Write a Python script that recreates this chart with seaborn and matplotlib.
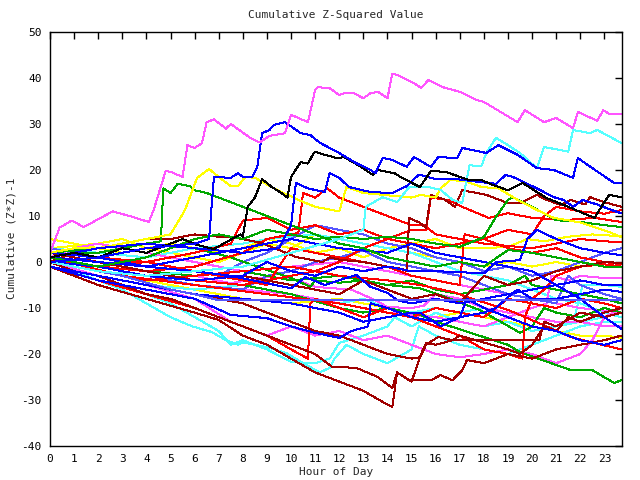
import matplotlib
matplotlib.use("Agg")
import matplotlib.pyplot as plt
import seaborn as sns
import pandas as pd

# ---------------- data ----------------
hour_ticks = list(range(24))
value_ticks = list(range(-40, 51, 10))

m1_x = [0,0.4,0.9,1.4,2.6,3.3,4.1,4.3,4.8,5.0,5.5,5.7,6.0,6.3,6.5,6.8,7.3,7.5,8.3,8.7,9.1,9.75,10.0,10.7,11.0,11.1,11.6,12.0,12.2,12.6,13.0,13.3,13.6,14.0,14.2,14.4,15.1,15.4,15.7,16.3,17.0,17.7,18.0,19.4,19.7,20.5,21.0,21.7,21.9,22.7,22.95,23.2,23.7]
m1_y = [2,7.5,9,7.6,11,10,8.7,11.3,19.8,19.6,18.5,25.4,24.8,25.8,30.4,31,29,30,27,26,27.4,28,32,30.4,37.4,38,37.8,36.3,36.7,36.7,35.6,36.7,37,35.6,40.9,40.7,38.9,37.8,39.6,38,37,35.2,34.8,30.4,33,30.4,31.3,29.1,32.6,30.7,33,32.2,32.2]

c1_x = [0,2,4,6,8,10,12,13,13.1,13.8,14.4,14.9,15.7,16.2,16.7,17.1,17.4,17.9,18.1,18.5,19.0,19.5,20.2,20.5,21.5,21.7,22.4,22.7,23.7]
c1_y = [0,-2,-3,-2,-1,2,5,7,12,14.1,13,16.3,16.3,15.7,13.5,12.8,21,20.9,23.7,27,25.4,23.7,20.4,25,24,28.7,28,28.7,25.9]

b1_x = [0,2,4,6,6.6,6.8,7.5,7.8,8.0,8.4,8.6,8.8,9.1,9.3,9.75,10.4,10.8,11.2,12.0,12.7,13.3,13.5,13.8,14.2,14.8,15.1,15.8,16.1,16.9,17.1,18.1,18.6,19.4,20.2,20.9,21.7,21.9,22.5,23.4,23.7]
b1_y = [0,1,3,4,5,18.5,18.3,19.3,18.5,18.5,20.7,28,28.7,29.8,30.4,28,27.6,25.9,23.7,21.5,20,19.3,22.6,22.2,20.7,22.8,20.7,22.8,22.6,24.8,23.7,25.4,23.3,20.4,20,18.3,22.6,20.4,17.2,17.2]

k1_x = [0,1,2,3,4,5,5.5,6.1,6.8,7.3,7.9,8.0,8.2,8.5,8.8,9.2,9.6,9.85,10.0,10.4,10.7,10.9,11.0,11.4,11.9,12.2,12.9,13.4,13.6,14.3,14.6,15.35,15.8,16.4,17.4,17.9,18.4,19.0,19.6,20.6,21.5,22.3,22.6,22.75,23.2,23.7]
k1_y = [1,2,1,3,2,4,5,3.7,2.8,4.3,6,5.4,12,14,18,16.3,15,14,18.5,21.7,21.4,23.3,24,23.3,22.6,22.8,20.7,18.9,20,19.3,18.3,16.3,19.8,19.6,17.8,17.8,16.7,15.6,17.2,13.9,12,10.2,9.6,11,14.6,14.1]

b2_x = [0,2,4,6,8,9.5,10.0,10.2,10.7,11.4,11.6,12.0,12.4,13.3,14.2,14.8,15.3,16.0,16.9,17.8,18.5,18.9,19.2,20.2,20.9,21.3,21.7,22.1,22.7,23.3,23.7]
b2_y = [1,3,4,3,2,3,8,17.2,16,15.2,19.3,18.3,16.3,15.2,15,16.5,19,18,18,17.4,17,18.9,18.5,16,14.1,13.5,12,13.5,12.5,11.3,10.6]

y1_x = [0,1,2,3,4,5,5.6,6.1,6.6,7.0,7.5,7.8,8.1,8.5,9.3,9.7,10.3,11.0,12.0,12.3,13.0,14.0,15.0,15.4,16.0,16.2,16.6,17.2,17.9,18.6,19.4,20.2,20.9,22.0,23.2,23.7]
y1_y = [2,3,3,4,5,6,11.3,18.3,20.2,18.5,16.5,16.5,18.5,18.3,16,15,13.5,12,11,16.3,15,14.5,14,14.6,14,16,17.8,17.6,16.3,16,13.5,11.3,9.6,8.6,6.5,5.4]

g2_x = [0,1,2,3,4,4.6,4.7,5.0,5.3,5.8,6.0,6.5,7.0,7.5,8.0,9,10,11,12,13,14,15,16,17,18,19,20,21,22,23,23.7]
g2_y = [1,2,2,3,4,4.5,16,15,17,16.5,15.6,15,14,13,12,10,8,6,4,3,1,0,-1,0,-1,2.6,2,1,0,-1,-1]

g1_x = [0,1,2,3,4,5,6,7,8,9,10,11,12,13,14,15,16,17,18,18.5,19.0,19.2,20.0,21.0,22.0,23.0,23.7]
g1_y = [1,0,-1,0,1,3,5,6,5,7,6,5,5.5,5,5.5,5,4,3.3,5.4,9.8,13.5,14.1,12,9.1,8.7,8,7.6]

dru_x = [0,1,2,3,4,5,6,7,7.6,8.8,10.2,11.3,11.6,12,13,14,14.6,14.8,14.9,15.35,15.6,15.8,16.4,16.8,17.1,18.1,19.0,19.5,20.2,20.6,21.2,21.6,22.2,22.4,23.0,23.7]
dru_y = [0,2,3,4,5,5,6,5.5,5.4,4.1,1.1,0,1,0.5,0,-1,-1.5,-2,9.6,8.5,7.4,14.6,13.5,12,15.6,14.6,12.8,12.8,14.6,13.5,12.4,13.5,12.5,14.1,13,12]

r1_x = [0,2,4,6,8,10,11,12,13,14,15,15.6,15.8,16.5,17.1,18.2,19.0,20.0,21.3,22.6,23.7]
r1_y = [0,-2,-3,-4,-5,-3,-2,0,3,5,7,7,14,13.5,12,9.6,10.6,9.6,9.1,9.6,8.7]

r2_x = [0,2,4,6,8,9,10,11,12,13,14,15,16,17,17.2,18,19,20,20.5,21,22,23,23.7]
r2_y = [2,1,0,-2,-4,-5,3,2,1,0,-1,-3,-4,-5,6,5,7,6,10,12,11,10.5,11.3]

r3_x = [0,2,4,6,8,9,10,10.3,10.5,11,11.5,12,13,14,14.5,15,15.5,16,17,18,19,20,21,22,23,23.7]
r3_y = [0,-1,-2,-1,2,5,6,6.3,15,14,16,14,12,10,9,8,8,6,5,4,3.5,3,4,5,4.5,4.3]

r4_x = [0,2,4,6,8,10,12,14,15.35,16.7,17.7,19.0,20.6,21.6,22.9,23.7]
r4_y = [0,-2,-4,-3,-2,-1,-3,-4,-5,-6.5,-8.3,-10.4,-14,-16.3,-18,-19]

r6_x = [0,3,6,9,12,14,15,16,17,18,19,20,21,22,23,23.7]
r6_y = [1,-3,-5,-7,-9,-11,-12,-10,-11,-12,-8,-9,-10,-8,-9,-10]

r7_x = [0,2,4,6,8,9,10,10.7,10.8,11,12,13,14,15,16,17,18,19,19.6,19.7,20,20.5,21,22,23,23.7]
r7_y = [-1,-4,-7,-10,-14,-16,-19,-21,-9,-8,-10,-12,-10,-12,-14,-16,-19,-20,-21,-12,-8,-6,-3,-1,-0.5,-1]

r9_x = [0,2,4,6,7.5,8,9,10,11,12,13,14,15,16,17,18,19,20,21,22,23,23.7]
r9_y = [0,-1,0,2,4,9,9.6,7,8,6,7,5,4,3,4,5,3,2,3,1,0,-0.5]

b3_x = [0,2,4,6,8,9,10,11,12,13,14,15,16,17,18,18.5,19.5,19.8,20.2,21,22,23,23.7]
b3_y = [0,-1,-3,-4,-3,0,-2,-3,-1,-2,-1,-2,-2,-2.2,-2.5,0,0.4,5,7,5,3,2,1.5]

b4_x = [0,2,4,6,8,10,12,14,15,16,17,18,19,19.5,20,21,22,23,23.7]
b4_y = [2,1,-1,1,3,5,3,2,4,2,1,0,-1,-1.5,-2,-5,-8,-12,-14.5]

b5_x = [0,2,4,6,8,10,12,13,14,15,15.35,16.2,17,18,18.5,19,19.4,20,21,22,23,23.7]
b5_y = [-1,-3,-5,-7,-8,-9,-11,-13,-12,-11,-11,-14,-12,-11,-10,-7.6,-6,-8,-8,-7,-6,-6.5]

bf_x = [0,1,2,3,4,5,6,7,23.7]
bf_y = [0,-1,-2,-3,-4.5,-6,-7,-8.3,-8.3]

b6_x = [0,2,4,6,7.5,10,10.6,11.4,12.7,13.3,14,14.4,15,16,17,18,19,20,21,22,23,23.7]
b6_y = [1,0,-1,-2,-3,-5.7,-3.3,-5,-2.8,-5.4,-6.7,-8.3,-9,-8,-9,-8,-7,-6,-5,-4,-5,-5]

b7_x = [0,2,4,6,7.5,9,10,11,12,12.5,13.2,13.3,14,15,16,17,17.3,18,19,20,21,22,23,23.7]
b7_y = [-1,-4,-6,-8,-11.5,-12.2,-14,-15.4,-16.5,-15,-14,-9,-10,-12,-13,-12,-8,-10,-12,-14,-15,-17,-18,-17]

mb1_x = [0,2,4,6,7,8,9,10,11,12,13,14,15,16,17,18,19,20,21,22,23,23.7]
mb1_y = [3,1,-1,-2,-3,0,2,5,8,7,6,4,3,1,0,-2,-1,-3,-2,0,2,3]

mb2_x = [0,2,4,6,8,9,10,11,12,13,14,15,16,17,18,19,20,21,21.5,22,23,23.7]
mb2_y = [1,-1,-3,-5,-6,-3,-2,0,1,2.5,0,-1,-2,-3,-5,-7,-8,-9,-3,-5,-7,-8]

cb_x = [0,1,2,3,4,5,5.9,6.7,7.3,7.8,8,9,9.8,10.5,11.2,11.6,11.8,12.3,13,14,15,15.3,16,17,18,19,20,21,22,23,23.7]
cb_y = [0,-2,-4,-6,-9,-12,-14,-15.2,-17,-18,-17.5,-18.5,-19.8,-22,-24,-23,-21,-18,-20,-22,-19,-14,-16,-18,-19,-20,-18,-16,-14,-13,-13]

c2_x = [0,2,4,6,8,10,12,13,14,15,16,17,18,19,20,21,21.7,22.1,23,23.7]
c2_y = [-1,-3,-5,-6,-5,-7,-9,-8,-10,-11,-10,-11,-10,-11,-12,-13,-13.3,-5,-5,-5.4]

c3_x = [0,2,4,6,8,9,10,11,12,13,14,15,16,17,18,19,20,21,22,23,23.7]
c3_y = [3,2,1,3,4,5,5.5,6,5,4,3,2,0,-2,-3,-4,-6,-8,-9,-11,-12]

c4_x = [0,2,4,5,6,7,7.5,8,9,10,11,11.6,12,13,14,14.3,15,16,17,18,19,20,21,22,23,23.7]
c4_y = [-1,-4,-7,-9,-12,-15,-18,-17,-19,-21.7,-22,-21,-17.6,-16,-14,-12,-14,-11,-13,-14,-13,-15,-14,-13,-12,-11]

m2_x = [0,2,4,6,7.5,9,10,11,12.5,13.5,14,15,15.5,16,17,18,19,20,21,22,23,23.7]
m2_y = [2,0,-2,-3,-4.6,-3.3,-3.5,-5.4,-6,-8.3,-9.8,-10,-9.5,-7,-8,-10,-11,-12,-13,-13,-14,-14]

m3_x = [0,2,4,6,7.5,9,10,11,12,13,14,15,16,17,18,19,20,21,22,22.5,23,23.7]
m3_y = [0,-3,-5,-8,-13,-16,-14,-16,-15,-17,-16,-18,-20,-20.7,-20,-19,-20,-22,-20,-17,-12,-10]

m4_x = [0,2,4,6,8,10,12,14,16,17,18,19,20,20.6,20.8,21.5,22,23,23.7]
m4_y = [1,-1,-3,-5,-6,-7,-9,-11,-12,-13,-14,-12,-10,-9,-3,-4,-3,-3.5,-3.5]

m5_x = [0,1,2,3,4,5,6,8,10,12,14,16,18,20,22,23.7]
m5_y = [1,3,4,3,2,1,0,-2,-1,0,-2,-4,-6,-8,-10,-11]

y2_x = [0,2,3,4,5,6,7,8,9,10,11,12,13,14,15,16,17,18,19,20,21,22,23,23.7]
y2_y = [3,4,5,3,2,1,0,2,4,3,6,5,4,3,2,1,0,-1,0,-1,0,-1,0,-0.5]

y3_x = [0,2,4,6,8,10,12,14,16,17,18,19,20,21,22,23,23.7]
y3_y = [0,-2,-4,-6,-8,-9,-8,-10,-12,-11,-12,-13,-14,-15,-16,-16,-16.5]

y4_x = [0,1,2,3,4,5,6,7,8,9,10,11,12,13,14,15,16,17,18,19,19.8,20.5,21.5,22.5,23.7]
y4_y = [5,4,3,2,3,4,3,2,3,5,4,2,3,1,3,4,5,3,3,3.3,5,4.5,5.5,6,5.6]

g3_x = [0,2,4,6,8,10,12,14,15.35,16.4,17.8,18.8,19.5,20,20.5,21,22,23,23.7]
g3_y = [1,0,-2,-3,-2,-4,-3,-5,-5.7,-7.6,-10.4,-13.3,-15.4,-14,-10,-11,-12,-10,-11]

g4_x = [0,2,4,6,8,10,12,13,14,15.35,16.2,17.1,18.1,19,19.5,20.2,21.6,22.5,23.4,23.7]
g4_y = [0,-1,-2,-4,-5,-7,-10,-11,-10,-11.5,-13.3,-14.8,-16.5,-18,-19.6,-20.9,-23.5,-23.5,-26.3,-25.7]

g5_x = [0,2,4,6,7.5,9,10,10.8,11,12,13,14,15,16,17,18,19,19.7,20,21,22,23,23.7]
g5_y = [2,3,4,3,1,-1.7,-3.5,-5.4,-4,-4.5,-4,-5,-4,-6,-7,-6,-5,-3,-5,-6,-7,-8,-9]

dr1_x = [0,1,2,3,4,5,6,7,8,9,10,11,12,13,14,14.2,14.4,15,15.4,15.6,16,16.7,20.3,20.5,21,22,23,23.7]
dr1_y = [-1,-3,-5,-6.5,-8,-9.5,-11,-12.6,-16,-18,-21,-24,-26,-28,-31,-31.5,-24,-26,-20,-17.6,-18,-17,-17,-13,-14,-11,-12,-11]

dr2_x = [0,1,2,3,4,5,6,7,8,9,10,11,11.7,12.7,13.6,14.2,14.4,14.9,15.8,16.2,16.7,17.1,17.3,18,19,20,21,22,23,23.7]
dr2_y = [0,-2,-3,-5,-7,-8,-10,-12,-14,-16,-18,-20,-22.8,-23,-25,-27.4,-24,-25.7,-25.7,-24.6,-25.7,-23.5,-21.3,-22,-20,-21,-19,-18,-17,-16]

dr4_x = [0,2,4,6,8,9,10,11,12,13,14,15,15.35,15.6,16.1,16.7,17,18,19,19.5,20,20.5,21,21.5,22,23,23.7]
dr4_y = [-1,-3,-5,-7,-9,-11,-13,-15,-16,-18,-20,-21,-20.7,-18,-16.3,-17,-16,-17.5,-19,-20,-18,-14,-15,-12,-13,-11,-10]

dr5_x = [0,2,4,6,8,10,12,13,14,15,16,17,18,19,20,21,22,23,23.7]
dr5_y = [2,0,-2,-4,-3,-5,-7,-4,-6,-8,-7,-9,-3,-5,-4,-2,-1,0,-0.2]

# ---------------- colours ----------------
RED, GREEN, BLUE = "#ff0000", "#00a800", "#0000ff"
MAG, CYAN, DRED = "#ff55ff", "#55ffff", "#a00000"
YEL, BLACK, MBLUE = "#ffff00", "#000000", "#5555ff"

series = [
    ("y3", YEL, y3_x, y3_y), ("y4", YEL, y4_x, y4_y), ("y2", YEL, y2_x, y2_y),
    ("c3", CYAN, c3_x, c3_y), ("c2", CYAN, c2_x, c2_y), ("c4", CYAN, c4_x, c4_y),
    ("cb", CYAN, cb_x, cb_y),
    ("m5", MAG, m5_x, m5_y), ("m4", MAG, m4_x, m4_y), ("m3", MAG, m3_x, m3_y),
    ("m2", MAG, m2_x, m2_y),
    ("mb1", MBLUE, mb1_x, mb1_y), ("mb2", MBLUE, mb2_x, mb2_y),
    ("g5", GREEN, g5_x, g5_y), ("g3", GREEN, g3_x, g3_y), ("g4", GREEN, g4_x, g4_y),
    ("r9", RED, r9_x, r9_y), ("r6", RED, r6_x, r6_y), ("r4", RED, r4_x, r4_y),
    ("r7", RED, r7_x, r7_y), ("r2", RED, r2_x, r2_y), ("r3", RED, r3_x, r3_y),
    ("r1", RED, r1_x, r1_y),
    ("dr5", DRED, dr5_x, dr5_y), ("dr4", DRED, dr4_x, dr4_y), ("dr2", DRED, dr2_x, dr2_y),
    ("dr1", DRED, dr1_x, dr1_y), ("dru", DRED, dru_x, dru_y),
    ("b3", BLUE, b3_x, b3_y), ("b4", BLUE, b4_x, b4_y), ("b5", BLUE, b5_x, b5_y),
    ("b6", BLUE, b6_x, b6_y), ("b7", BLUE, b7_x, b7_y),
    ("bf", MBLUE, bf_x, bf_y),
    ("g1", GREEN, g1_x, g1_y), ("g2", GREEN, g2_x, g2_y),
    ("y1", YEL, y1_x, y1_y), ("c1", CYAN, c1_x, c1_y),
    ("b2", BLUE, b2_x, b2_y), ("k1", BLACK, k1_x, k1_y),
    ("b1", BLUE, b1_x, b1_y), ("m1", MAG, m1_x, m1_y),
]

frames = []
for name, col, xs, ys in series:
    frames.append(pd.DataFrame({"hour": xs, "value": ys, "series": name}))
df = pd.concat(frames, ignore_index=True)
palette = {name: col for name, col, _, _ in series}
order = [name for name, _, _, _ in series]

# ---------------- plotting ----------------
sns.set_style("white")
plt.rcParams["font.family"] = ["DejaVu Sans Mono"]

fig = plt.figure(figsize=(6.4, 4.8), dpi=100)
ax = fig.add_axes([50 / 640, 34 / 480, 572 / 640, 414 / 480])

sns.lineplot(data=df, x="hour", y="value", hue="series", hue_order=order,
             palette=palette, estimator=None, sort=False, legend=False,
             linewidth=0.72, ax=ax)
for ln in ax.lines:
    ln.set_antialiased(False)

ax.set_xlim(0, 23.73)
ax.set_ylim(-40, 50)
ax.set_xticks(hour_ticks)
ax.set_xticklabels([str(h) for h in hour_ticks])
ax.set_yticks(value_ticks)
ax.set_yticklabels([str(v) for v in value_ticks])
ax.tick_params(direction="in", top=True, right=True, length=5, width=1,
               labelsize=8, colors="black", pad=6)
for sp in ax.spines.values():
    sp.set_visible(True)
    sp.set_color("black")
    sp.set_linewidth(1)
ax.set_xlabel("")
ax.set_ylabel("")

fig.text(336 / 640, 1 - 15 / 480, "Cumulative Z-Squared Value",
         ha="center", va="center", fontsize=8)
fig.text(336 / 640, 1 - 472 / 480, "Hour of Day",
         ha="center", va="center", fontsize=8)
fig.text(12 / 640, 1 - 238 / 480, "Cumulative (Z*Z)-1",
         ha="center", va="center", rotation=90, fontsize=8)

fig.savefig("out.png", dpi=100, facecolor="white")
